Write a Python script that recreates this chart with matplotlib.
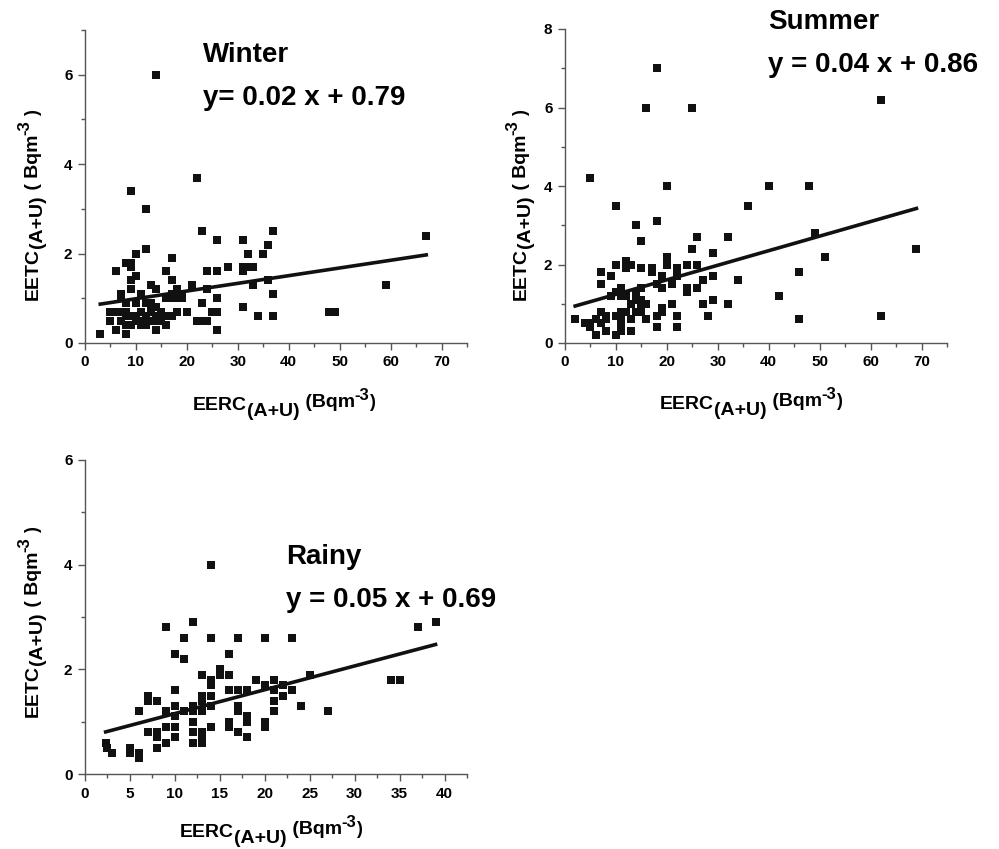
import matplotlib
matplotlib.use('Agg')
import matplotlib.pyplot as plt
import numpy as np

# Winter season
WINTER_X = [3, 14, 22, 9, 12, 23, 37, 26, 31, 36, 12, 10, 32, 35, 17, 8, 9, 9,
            28, 31, 32, 33, 6, 16, 24, 26, 31, 10, 9, 17, 36, 13, 21, 33, 59,
            9, 14, 18, 24, 7, 11, 17, 18, 19, 37, 26, 23, 31, 25, 26, 20, 34,
            37, 22, 23, 24, 26, 6, 8, 14, 5, 5, 6, 7, 8, 7, 7, 8, 8, 8, 9, 10,
            10, 11, 11, 11, 12, 12, 12, 13, 13, 13, 13, 14, 14, 15, 15, 15, 16,
            16, 16, 17, 17, 18, 18, 19, 19, 10, 9, 12, 14, 48, 49, 67]
WINTER_Y = [0.2, 6.0, 3.7, 3.4, 3.0, 2.5, 2.5, 2.3, 2.3, 2.2, 2.1, 2.0, 2.0,
            2.0, 1.9, 1.8, 1.8, 1.7, 1.7, 1.7, 1.7, 1.7, 1.6, 1.6, 1.6, 1.6,
            1.6, 1.5, 1.4, 1.4, 1.4, 1.3, 1.3, 1.3, 1.3, 1.2, 1.2, 1.2, 1.2,
            1.1, 1.1, 1.1, 1.1, 1.1, 1.1, 1.0, 0.9, 0.8, 0.7, 0.7, 0.7, 0.6,
            0.6, 0.5, 0.5, 0.5, 0.3, 0.3, 0.2, 0.3, 0.5, 0.7, 0.7, 0.7, 0.7,
            1.0, 0.5, 0.9, 0.6, 0.4, 0.4, 0.6, 0.9, 0.7, 0.5, 0.4, 0.4, 0.6,
            0.9, 0.9, 0.8, 0.5, 0.7, 0.6, 0.8, 0.7, 0.5, 0.6, 0.4, 0.6, 1.0,
            1.0, 0.6, 1.0, 0.7, 1.0, 1.1, 0.5, 0.6, 0.5, 0.5, 0.7, 0.7, 2.4]
WINTER_FIT = (0.0172, 0.818)

# Summer season
SUMMER_X = [18, 16, 25, 62, 5, 20, 40, 48, 10, 36, 18, 14, 15, 26, 32, 49, 25,
            69, 29, 51, 20, 10, 12, 13, 20, 24, 26, 15, 17, 22, 12, 7, 17, 46,
            9, 19, 22, 29, 34, 27, 7, 18, 21, 11, 15, 19, 24, 26, 24, 10, 14,
            9, 11, 12, 42, 29, 14, 15, 13, 16, 21, 27, 32, 15, 19, 7, 11, 12,
            14, 15, 19, 8, 10, 18, 22, 28, 62, 2, 6, 8, 11, 13, 16, 46, 4, 7,
            5, 11, 18, 22, 6, 10, 8, 11, 13, 5]
SUMMER_Y = [7.0, 6.0, 6.0, 6.2, 4.2, 4.0, 4.0, 4.0, 3.5, 3.5, 3.1, 3.0, 2.6,
            2.7, 2.7, 2.8, 2.4, 2.4, 2.3, 2.2, 2.2, 2.0, 2.1, 2.0, 2.0, 2.0,
            2.0, 1.9, 1.9, 1.9, 1.9, 1.8, 1.8, 1.8, 1.7, 1.7, 1.7, 1.7, 1.6,
            1.6, 1.5, 1.5, 1.5, 1.4, 1.4, 1.4, 1.4, 1.4, 1.3, 1.3, 1.3, 1.2,
            1.2, 1.2, 1.2, 1.1, 1.1, 1.1, 1.0, 1.0, 1.0, 1.0, 1.0, 1.0, 0.9,
            0.8, 0.8, 0.8, 0.8, 0.8, 0.8, 0.7, 0.7, 0.7, 0.7, 0.7, 0.7, 0.6,
            0.6, 0.6, 0.6, 0.6, 0.6, 0.6, 0.5, 0.5, 0.4, 0.5, 0.4, 0.4, 0.2,
            0.2, 0.3, 0.3, 0.3, 0.5]
SUMMER_FIT = (0.0371, 0.868)

# Rainy season
RAINY_X = [14, 12, 39, 9, 37, 11, 14, 17, 20, 23, 10, 16, 11, 15, 15, 13, 16,
           25, 14, 14, 19, 21, 34, 35, 20, 22, 10, 16, 17, 18, 21, 23, 7, 13,
           14, 22, 7, 8, 13, 21, 10, 12, 14, 17, 24, 6, 9, 11, 12, 13, 17, 21,
           27, 10, 18, 12, 16, 18, 20, 9, 10, 14, 16, 20, 7, 12, 13, 17, 8, 8,
           10, 13, 18, 9, 12, 13, 2.3, 2.5, 8, 3, 5, 5, 6, 6]
RAINY_Y = [4.0, 2.9, 2.9, 2.8, 2.8, 2.6, 2.6, 2.6, 2.6, 2.6, 2.3, 2.3, 2.2,
           2.0, 1.9, 1.9, 1.9, 1.9, 1.8, 1.7, 1.8, 1.8, 1.8, 1.8, 1.7, 1.7,
           1.6, 1.6, 1.6, 1.6, 1.6, 1.6, 1.5, 1.5, 1.5, 1.5, 1.4, 1.4, 1.4,
           1.4, 1.3, 1.3, 1.3, 1.3, 1.3, 1.2, 1.2, 1.2, 1.2, 1.2, 1.2, 1.2,
           1.2, 1.1, 1.1, 1.0, 1.0, 1.0, 1.0, 0.9, 0.9, 0.9, 0.9, 0.9, 0.8,
           0.8, 0.8, 0.8, 0.8, 0.7, 0.7, 0.7, 0.7, 0.6, 0.6, 0.6, 0.6, 0.5,
           0.5, 0.4, 0.5, 0.4, 0.4, 0.3]
RAINY_FIT = (0.0455, 0.700)

# axis titles as (text, fontsize, shift in points: - lowers, + raises)
X_LABEL = [('EERC', 14, 0), ('(A+U)', 14, -4), (' (Bqm', 14, 2),
           ('-3', 12, 8), (')', 13, 2)]
Y_LABEL = [('EETC', 14, 0), ('(A+U)', 14, -3), (' ( Bqm', 14, 0),
           ('-3', 12, 7), (' )', 13, 0)]

plt.rcParams['font.family'] = 'Liberation Sans'
plt.rcParams['font.weight'] = 'bold'

W, H = 999, 849


def chained_label(ax, pieces, start, vertical=False):
    # pieces are drawn one after the other, each hung off the previous box
    prev = None
    prev_dy = 0
    for text, size, dy in pieces:
        if not vertical:
            if prev is None:
                prev = ax.annotate(text, xy=start, xycoords='axes fraction',
                                   xytext=(0, dy), textcoords='offset points',
                                   fontsize=size, fontweight='bold',
                                   ha='left', va='baseline', annotation_clip=False)
            else:
                prev = ax.annotate(text, xy=(1, 0), xycoords=prev,
                                   xytext=(0, dy - prev_dy), textcoords='offset points',
                                   fontsize=size, fontweight='bold',
                                   ha='left', va='bottom', annotation_clip=False)
        else:
            if prev is None:
                prev = ax.annotate(text, xy=start, xycoords='axes fraction',
                                   xytext=(-dy, 0), textcoords='offset points',
                                   fontsize=size, fontweight='bold', rotation=90,
                                   ha='right', va='bottom', annotation_clip=False)
            else:
                prev = ax.annotate(text, xy=(1, 1), xycoords=prev,
                                   xytext=(-(dy - prev_dy), 0), textcoords='offset points',
                                   fontsize=size, fontweight='bold', rotation=90,
                                   ha='right', va='bottom', annotation_clip=False)
        prev_dy = dy


def draw_panel(fig, rect, x, y, fit, xmax, xmajor, xminor, ymax, name, eq,
               name_pos, eq_pos, xlab_pos, ylab_pos):
    ax = fig.add_axes(rect)
    ax.scatter(x, y, marker='s', s=32, color='#111111', linewidths=0, zorder=3)

    # regression line over the data range
    xs = np.array([min(x), max(x)])
    ax.plot(xs, fit[0] * xs + fit[1], color='#111111', lw=2.6, zorder=4)

    ax.set_xlim(0, xmax)
    ax.set_ylim(0, ymax)
    xt = np.arange(0, xmax + 0.01, xmajor)
    yt = np.arange(0, ymax + 0.01, 2)
    ax.set_xticks(xt)
    ax.set_xticks(np.arange(0, xmax + 0.01, xminor), minor=True)
    ax.set_yticks(yt)
    ax.set_yticks(np.arange(0, ymax + 0.01, 1), minor=True)
    ax.set_xticklabels(['%g' % v for v in xt], fontweight='bold', fontsize=11)
    ax.set_yticklabels(['%g' % v for v in yt], fontweight='bold', fontsize=11)

    for side in ['top', 'right']:
        ax.spines[side].set_visible(False)
    for side in ['left', 'bottom']:
        ax.spines[side].set_color('#555555')
        ax.spines[side].set_linewidth(1.0)
    ax.tick_params(which='major', length=5, width=1, color='#555555', pad=4)
    ax.tick_params(which='minor', length=3, width=1, color='#555555')

    chained_label(ax, X_LABEL, xlab_pos)
    chained_label(ax, Y_LABEL, ylab_pos, vertical=True)

    ax.text(name_pos[0], name_pos[1], name, fontsize=20, fontweight='bold',
            va='center', ha='left', clip_on=False)
    ax.text(eq_pos[0], eq_pos[1], eq, fontsize=20, fontweight='bold',
            va='center', ha='left', clip_on=False)
    return ax


def main():
    fig = plt.figure(figsize=(W / 100, H / 100), dpi=100)

    draw_panel(fig, [85 / W, (H - 343) / H, 382 / W, 313 / H],
               WINTER_X, WINTER_Y, WINTER_FIT, 75, 10, 5, 7,
               'Winter', 'y= 0.02 x + 0.79', (23.1, 6.43), (23.1, 5.47),
               (108 / 382, -67 / 313), (-43 / 382, 43 / 313))
    draw_panel(fig, [565 / W, (H - 343) / H, 382 / W, 314 / H],
               SUMMER_X, SUMMER_Y, SUMMER_FIT, 75, 10, 5, 8,
               'Summer', 'y = 0.04 x + 0.86', (39.8, 8.18), (39.8, 7.08),
               (95 / 382, -66 / 314), (-35 / 382, 43 / 314))
    draw_panel(fig, [85 / W, (H - 774) / H, 382 / W, 314 / H],
               RAINY_X, RAINY_Y, RAINY_FIT, 42.5, 5, 2.5, 6,
               'Rainy', 'y = 0.05 x + 0.69', (22.4, 4.15), (22.4, 3.33),
               (95 / 382, -63 / 314), (-43 / 382, 57 / 314))

    fig.savefig('out.png', dpi=100)


if __name__ == '__main__':
    main()
